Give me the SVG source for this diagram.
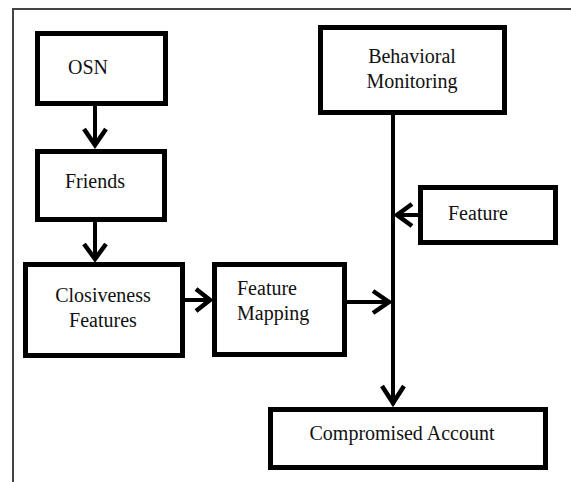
<svg xmlns="http://www.w3.org/2000/svg" width="571" height="482" viewBox="0 0 571 482">
<style>
.box{fill:#fff;stroke:#000;stroke-width:5}
.t{font-family:"Liberation Serif","Times New Roman",serif;font-size:20px;fill:#111}
.m{text-anchor:middle}
.ln{fill:none;stroke:#000;stroke-width:4}
.ah{fill:none;stroke:#000;stroke-width:4.5;stroke-linejoin:miter;stroke-linecap:butt}
.frame{fill:none;stroke:#444;stroke-width:2}
</style>
<rect width="571" height="482" fill="#fff"/>
<path class="frame" d="M13,482 V9 H571"/>
<g id="osn"><rect class="box" x="37.5" y="33.5" width="128" height="70"/><text class="t" x="68" y="74">OSN</text></g>
<g id="friends"><rect class="box" x="37.5" y="151.5" width="127" height="68"/><text class="t" x="65" y="188">Friends</text></g>
<g id="closiveness"><rect class="box" x="25.5" y="264.5" width="157" height="91"/><text class="t m" x="103" y="302">Closiveness</text><text class="t m" x="103" y="327">Features</text></g>
<g id="mapping"><rect class="box" x="214.5" y="264.5" width="130" height="90"/><text class="t" x="237" y="295">Feature</text><text class="t" x="237" y="320">Mapping</text></g>
<g id="behavioral"><rect class="box" x="320.5" y="27.5" width="184" height="85"/><text class="t m" x="412" y="63">Behavioral</text><text class="t m" x="412" y="88">Monitoring</text></g>
<g id="feature"><rect class="box" x="420.5" y="187.5" width="135" height="55"/><text class="t" x="448" y="220">Feature</text></g>
<g id="compromised"><rect class="box" x="270.5" y="409.5" width="275" height="58"/><text class="t m" x="402" y="440">Compromised Account</text></g>
<g id="connectors">
<line class="ln" x1="95" y1="106" x2="95" y2="146"/>
<polyline class="ah" points="84,129 95,145 106,129"/>
<line class="ln" x1="95" y1="222" x2="95" y2="260"/>
<polyline class="ah" points="84,244 95,259 106,244"/>
<line class="ln" x1="185" y1="300" x2="210" y2="300"/>
<polyline class="ah" points="196,289 210,300 196,311"/>
<line class="ln" x1="347" y1="302" x2="389" y2="302"/>
<polyline class="ah" points="373,291 389,302 373,313"/>
<line class="ln" x1="393" y1="115" x2="393" y2="405"/>
<polyline class="ah" points="382,386 393,403 404,386"/>
<line class="ln" x1="418" y1="215" x2="396" y2="215"/>
<polyline class="ah" points="412,204 397,215 412,226"/>
</g>
</svg>
